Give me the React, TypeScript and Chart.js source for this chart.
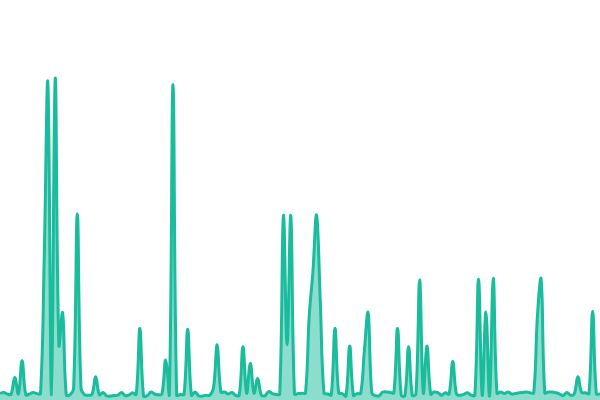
import { useEffect, useRef } from 'react'
import { Chart, ChartConfiguration, registerables } from 'chart.js'

Chart.register(...registerables)

const values: number[] = [
  1.7, 1.9, 1.5, 1.4, 5.6, 1.5, 9.8, 1.3, 1.5, 1.9,
  1.6, 1.6, 35, 79.3, 1.3, 80.4, 13.8, 21.8, 1.3, 1.3,
  3, 46.5, 3, 1.3, 1.2, 1.4, 5.8, 1.3, 1.9, 1,
  1, 1.1, 1.2, 1.9, 1.1, 1.2, 1.8, 1.4, 17.9, 1,
  1.1, 2, 1.5, 1.3, 1.5, 10, 1.2, 78.9, 1.2, 1.4,
  1.4, 17.7, 1.2, 2, 1, 1, 1.2, 1.2, 3, 13.8,
  2, 2, 1.5, 1.9, 1.2, 1.2, 13.3, 1.7, 9.2, 1.7,
  5.4, 1.2, 1.1, 2.1, 1.6, 1.4, 1.5, 46.1, 13.8, 46.1,
  1.5, 1.6, 1.7, 1.8, 21, 32, 46.2, 25, 1.8, 1.5,
  1.3, 17.9, 1.8, 1.6, 1, 13.5, 1.2, 1.6, 1.7, 12.5,
  21.8, 1.8, 1.1, 1.1, 2, 2, 1.9, 1.8, 17.9, 1.2,
  1.1, 13.3, 1.2, 1.5, 30, 1.8, 13.5, 1.5, 2, 1.8,
  1.2, 1.8, 1.5, 9.6, 1.5, 1.2, 1.4, 1.8, 1.2, 1.2,
  30.2, 1.2, 22, 1, 30.4, 1.7, 2, 1.6, 2, 1.5,
  1.6, 1.8, 1.9, 2, 1.8, 1.8, 21, 30.2, 1.8, 2,
  2, 1.8, 1.5, 1.1, 1.9, 1.2, 1.5, 5.8, 1.9, 1.8,
  1.6, 22.2, 1.6, 1.5,
]

const labels: string[] = values.map((_, i) => String(i + 1))

const yMin = 0
const yMax = 100

export default function App() {
  const canvasRef = useRef<HTMLCanvasElement>(null)
  const chartRef = useRef<Chart | null>(null)

  useEffect(() => {
    if (!canvasRef.current) return
    const ctx = canvasRef.current.getContext('2d')
    if (!ctx) return

    if (chartRef.current) {
      chartRef.current.destroy()
    }

    const config: ChartConfiguration = {
      type: 'line',
      data: {
        labels,
        datasets: [
          {
            data: values,
            borderColor: '#1abc9c',
            backgroundColor: 'rgba(26, 188, 156, 0.5)',
            borderWidth: 3,
            fill: 'origin',
            tension: 0.4,
            pointRadius: 0,
            pointHoverRadius: 0,
          },
        ],
      },
      options: {
        responsive: true,
        maintainAspectRatio: false,
        animation: false,
        layout: { padding: 0 },
        plugins: {
          legend: { display: false },
          tooltip: { enabled: false },
        },
        scales: {
          x: { display: false },
          y: { display: false, min: yMin, max: yMax },
        },
      },
    }

    chartRef.current = new Chart(ctx, config)

    return () => {
      chartRef.current?.destroy()
      chartRef.current = null
    }
  }, [])

  return (
    <div style={{ position: 'fixed', left: 0, top: 0, width: 600, height: 400, background: '#fff' }}>
      <canvas ref={canvasRef} />
    </div>
  )
}
